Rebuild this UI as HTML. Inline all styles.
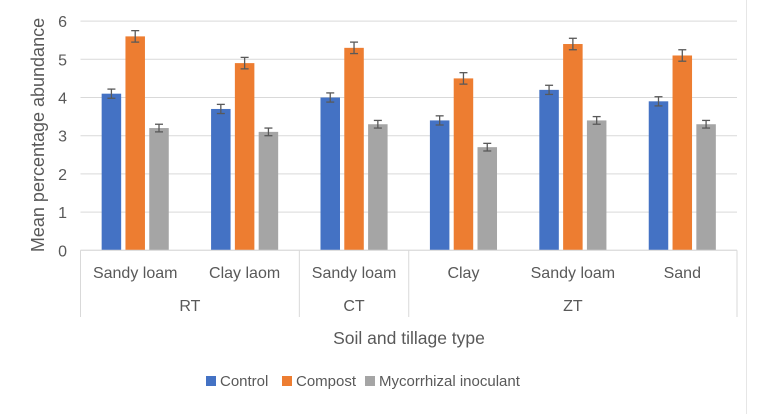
<!DOCTYPE html>
<html><head><meta charset="utf-8"><style>
body{margin:0;background:#fff;font-family:"Liberation Sans",sans-serif;}
</style></head><body>
<svg id="c" width="760" height="414" xmlns="http://www.w3.org/2000/svg" style="font-family:'Liberation Sans',sans-serif"></svg>
<script>
const categories=["Sandy loam","Clay laom","Sandy loam","Clay","Sandy loam","Sand"];
const groups=[{name:"RT",n:2},{name:"CT",n:1},{name:"ZT",n:3}];
const seriesNames=["Control","Compost","Mycorrhizal inoculant"];
const control=[4.1,3.7,4.0,3.4,4.2,3.9];
const compost=[5.6,4.9,5.3,4.5,5.4,5.1];
const myco=[3.2,3.1,3.3,2.7,3.4,3.3];
const errControl=[0.12,0.12,0.12,0.12,0.12,0.12];
const errCompost=[0.15,0.15,0.15,0.15,0.15,0.15];
const errMyco=[0.1,0.1,0.1,0.1,0.1,0.1];
const yTicks=[0,1,2,3,4,5,6];
const colors=["#4472c4","#ed7d31","#a5a5a5"];
const svg=document.getElementById('c');const NS="http://www.w3.org/2000/svg";
function mk(t,a,p){const e=document.createElementNS(NS,t);for(const k in a)e.setAttribute(k,a[k]);(p||svg).appendChild(e);return e;}
const x0=80.5,x1=737,y0=250.3,unit=38.2;
const gw=(x1-x0)/categories.length;
const y=v=>y0-v*unit;
const xc=i=>x0+gw*(i+0.5);
const fr=mk('line',{x1:746.5,x2:746.5,y1:0,y2:414,stroke:'#e6e6e6'});

yTicks.forEach(t=>{
 const l=mk('line',{x1:x0,x2:x1,y1:y(t),y2:y(t),stroke:'#d9d9d9','stroke-width':1});
 
 const tx=mk('text',{x:67,y:y(t)+6,'text-anchor':'end','font-size':16,fill:'#595959'});tx.textContent=t;
 
});
const series=[control,compost,myco],errs=[errControl,errCompost,errMyco];
const bw=19.5,gap=4.3;
categories.forEach((c,i)=>{
 series.forEach((s,k)=>{
  const bx=xc(i)+(k-1)*(bw+gap)-bw/2;
  const r=mk('rect',{x:bx,y:y(s[i]),width:bw,height:y0-y(s[i]),fill:colors[k]});
  
  
  const cx=bx+bw/2,e=errs[k][i];
  const g=mk('g',{stroke:'#595959','stroke-width':1.3});
  
  mk('line',{x1:cx,x2:cx,y1:y(s[i]+e),y2:y(s[i]-e)},g);
  mk('line',{x1:cx-4,x2:cx+4,y1:y(s[i]+e),y2:y(s[i]+e)},g);
  mk('line',{x1:cx-4,x2:cx+4,y1:y(s[i]-e),y2:y(s[i]-e)},g);
 });
 const t=mk('text',{x:xc(i),y:278,'text-anchor':'middle','font-size':16,fill:'#595959'});t.textContent=c;
 
});
const ax=mk('line',{x1:x0,x2:x1,y1:y0,y2:y0,stroke:'#d9d9d9','stroke-width':1});

let gi=0;
const sep=mk('line',{x1:x0,x2:x0,y1:y0,y2:317,stroke:'#d9d9d9'});

groups.forEach(g=>{
 const xs=x0+gi*gw,xe=x0+(gi+g.n)*gw;gi+=g.n;
 const l=mk('line',{x1:xe,x2:xe,y1:y0,y2:317,stroke:'#d9d9d9'});
 
 const t=mk('text',{x:(xs+xe)/2,y:311,'text-anchor':'middle','font-size':16,fill:'#595959'});t.textContent=g.name;
 
});
const xt=mk('text',{x:409,y:344,'text-anchor':'middle','font-size':17.5,fill:'#595959'});xt.textContent="Soil and tillage type";

const yt=mk('text',{x:0,y:0,'text-anchor':'middle','font-size':18,fill:'#595959',transform:'translate(44,135) rotate(-90)'});yt.textContent="Mean percentage abundance";

const lx=[206,282,365];
seriesNames.forEach((n,k)=>{
 const g=mk('g',{});
 
 mk('rect',{x:lx[k],y:376,width:10,height:10,fill:colors[k]},g);
 const t=mk('text',{x:lx[k]+14,y:386,'font-size':15,fill:'#595959'},g);t.textContent=n;
});
</script>
</body></html>
